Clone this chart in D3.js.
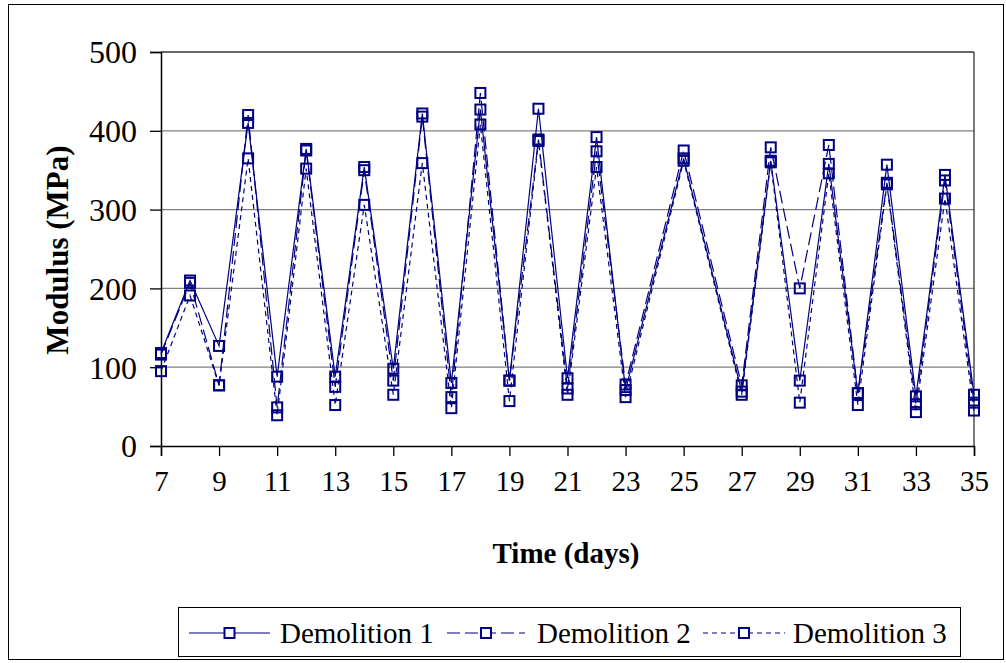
<!DOCTYPE html>
<html><head><meta charset="utf-8">
<script src="https://cdn.jsdelivr.net/npm/d3@7"></script>
<style>body{margin:0;background:#fff}svg{display:block}text{font-family:"Liberation Serif","Times New Roman",serif;fill:#000}</style>
</head><body><svg id="c" width="1006" height="663"></svg>
<script>
const days = [7,8,9,10,11,12,13,14,15,16,17,18,19,20,21,22,23,25,27,28,29,30,31,32,33,34,35];
const demolition1 = [118,210,127,410,88,377,88,354,98,422,80,427,83,428,86,392,71,365,69,362,83,358,67,357,63,344,65];
const demolition2 = [116,207,77,420,49,375,75,350,83,418,62,448,83,389,73,374,78,375,77,379,200,382,67,334,53,337,55];
const demolition3 = [95,191,77,365,39,352,52,306,65,359,48,408,57,387,65,354,62,362,65,360,55,346,52,332,43,314,45];
const seriesNames = ["Demolition 1","Demolition 2","Demolition 3"];
const xTicks = [7,9,11,13,15,17,19,21,23,25,27,29,31,33,35];
const yTicks = [0,100,200,300,400,500];

const svg = d3.select("#c");
const color = "#000080";
const dashes = [null, "13,5", "5,4"];
const L = 161, R = 974, T = 52, B = 446;
const x = d3.scaleLinear().domain([7,35]).range([L,R]);
const y = d3.scaleLinear().domain([0,500]).range([B,T]);

svg.append("rect").attr("x",8.5).attr("y",4.5).attr("width",995).attr("height",655)
  .attr("fill","none").attr("stroke","#000").attr("stroke-width",1);

// gridlines
svg.append("g").selectAll("line").data(yTicks.filter(d=>d>0)).join("line")
  .attr("x1",L).attr("x2",R).attr("y1",d=>y(d)).attr("y2",d=>y(d))
  .attr("stroke",d=>d===500?"#333":"#808080").attr("stroke-width",1.3);
svg.append("line").attr("x1",R).attr("x2",R).attr("y1",T).attr("y2",B).attr("stroke","#333").attr("stroke-width",1.3);

// axes
const yAxis = d3.axisLeft(y).tickValues(yTicks).tickSize(11).tickPadding(13).tickFormat(d3.format("d"));
const gy = svg.append("g").attr("transform",`translate(${L},0)`).call(yAxis);
gy.select(".domain").attr("stroke","#000").attr("stroke-width",1.5);
gy.selectAll(".tick line").attr("stroke","#000").attr("stroke-width",1.3);
gy.selectAll(".tick text").attr("font-size",32).attr("font-family","Liberation Serif").attr("dy","0.34em");

const xAxis = d3.axisBottom(x).tickValues(xTicks).tickSize(10).tickPadding(14).tickFormat(d3.format("d"));
const gx = svg.append("g").attr("transform",`translate(0,${B})`).call(xAxis);
gx.select(".domain").attr("stroke","#000").attr("stroke-width",1.5);
gx.selectAll(".tick line").attr("stroke","#000").attr("stroke-width",1.3);
gx.selectAll(".tick text").attr("font-size",29).attr("font-family","Liberation Serif");

// series
const allSeries = [demolition1, demolition2, demolition3];
const line = d3.line().x(d=>x(d[0])).y(d=>y(d[1]));
allSeries.forEach((vals,i)=>{
  const pts = days.map((d,j)=>[d,vals[j]]);
  svg.append("path").datum(pts).attr("d",line).attr("fill","none")
    .attr("stroke",color).attr("stroke-width",1.2).attr("stroke-dasharray",dashes[i]);
});
allSeries.forEach((vals,i)=>{
  const pts = days.map((d,j)=>[d,vals[j]]);
  svg.append("g").selectAll("rect").data(pts).join("rect")
    .attr("x",d=>x(d[0])-5).attr("y",d=>y(d[1])-5).attr("width",10).attr("height",10)
    .attr("fill","none").attr("stroke",color).attr("stroke-width",2);
});

// axis titles
svg.append("text").attr("transform","translate(68,250) rotate(-90)").attr("text-anchor","middle")
  .attr("font-size",31).attr("font-weight","bold").text("Modulus (MPa)");
svg.append("text").attr("x",566).attr("y",563).attr("text-anchor","middle")
  .attr("font-size",29).attr("font-weight","bold").text("Time (days)");

// legend
svg.append("rect").attr("x",178.5).attr("y",607.5).attr("width",782).attr("height",49)
  .attr("fill","none").attr("stroke","#000").attr("stroke-width",1);
const leg = [{x0:189,x1:270,tx:280},{x0:447,x1:525,tx:537},{x0:703,x1:785,tx:793}];
leg.forEach((p,i)=>{
  const g = svg.append("g");
  g.append("line").attr("x1",p.x0).attr("x2",p.x1).attr("y1",633).attr("y2",633)
    .attr("stroke",color).attr("stroke-width",1.2).attr("stroke-dasharray",dashes[i]);
  const mx = (p.x0+p.x1)/2;
  g.append("rect").attr("x",mx-5).attr("y",628).attr("width",10).attr("height",10)
    .attr("fill","#fff").attr("stroke",color).attr("stroke-width",2);
  g.append("text").attr("x",p.tx).attr("y",643).attr("font-size",29).text(seriesNames[i]);
});
</script></body></html>
